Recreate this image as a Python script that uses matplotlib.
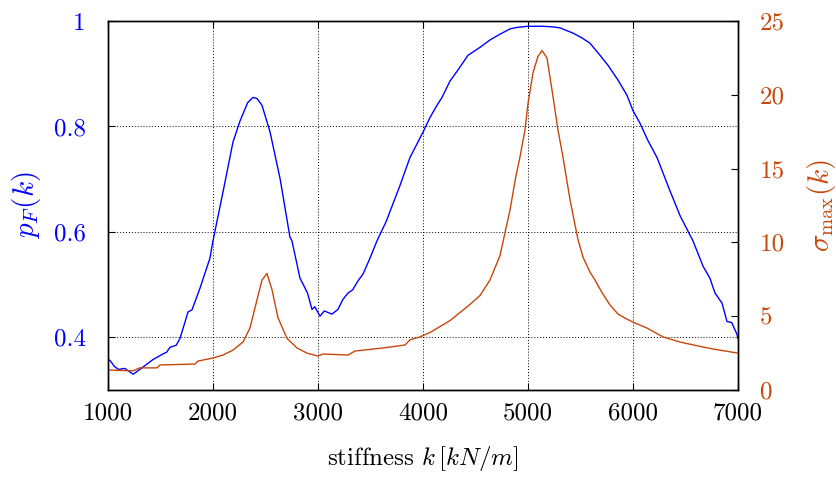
import numpy as np
import matplotlib
matplotlib.use("Agg")
import matplotlib.pyplot as plt

plt.rcParams['font.family'] = 'serif'
plt.rcParams['font.serif'] = ['cmr10', 'DejaVu Serif']
plt.rcParams['mathtext.fontset'] = 'cm'
plt.rcParams['axes.formatter.use_mathtext'] = True

# failure probability p_F(k)
k_pf = [1000, 1020, 1060, 1100, 1160, 1240, 1310, 1430, 1520, 1560, 1590, 1650,
        1686, 1720, 1762, 1800, 1876, 1971, 2000, 2100, 2190, 2257, 2330, 2380,
        2420, 2467, 2543, 2640, 2733, 2752, 2829, 2860, 2900, 2943, 2970, 3019,
        3060, 3133, 3190, 3238, 3286, 3330, 3381, 3429, 3495, 3562, 3650, 3781,
        3876, 4000, 4067, 4133, 4181, 4257, 4333, 4429, 4543, 4638, 4733, 4829,
        4900, 5000, 5143, 5230, 5305, 5429, 5514, 5590, 5686, 5762, 5857, 5943,
        6000, 6067, 6143, 6229, 6352, 6450, 6571, 6667, 6733, 6781, 6848, 6895,
        6940, 6990, 7000]
pf = [0.358, 0.356, 0.345, 0.339, 0.341, 0.330, 0.340, 0.358, 0.368, 0.372,
      0.381, 0.385, 0.398, 0.420, 0.448, 0.452, 0.493, 0.550, 0.583, 0.680,
      0.770, 0.810, 0.845, 0.855, 0.853, 0.840, 0.790, 0.700, 0.590, 0.583,
      0.512, 0.500, 0.484, 0.453, 0.458, 0.440, 0.450, 0.444, 0.453, 0.472,
      0.484, 0.490, 0.507, 0.520, 0.550, 0.583, 0.620, 0.688, 0.741, 0.789,
      0.817, 0.840, 0.855, 0.886, 0.907, 0.935, 0.950, 0.964, 0.975, 0.985,
      0.988, 0.990, 0.990, 0.989, 0.987, 0.977, 0.968, 0.958, 0.935, 0.916,
      0.888, 0.859, 0.830, 0.806, 0.773, 0.741, 0.678, 0.630, 0.583, 0.535,
      0.512, 0.484, 0.465, 0.430, 0.428, 0.406, 0.398]

# maximum stress sigma_max(k)
k_sig = [1000, 1100, 1240, 1300, 1467, 1495, 1829, 1857, 2000, 2095, 2190,
         2286, 2352, 2419, 2467, 2514, 2562, 2619, 2705, 2800, 2895, 3000,
         3048, 3286, 3352, 3619, 3829, 3876, 3971, 4067, 4257, 4448, 4543,
         4638, 4733, 4829, 4880, 4924, 4971, 5000, 5048, 5095, 5133, 5181,
         5238, 5286, 5333, 5400, 5476, 5524, 5590, 5638, 5705, 5781, 5857,
         5943, 6000, 6133, 6286, 6448, 6610, 6762, 7000]
sig = [1.36, 1.33, 1.30, 1.50, 1.50, 1.70, 1.76, 1.96, 2.17, 2.37, 2.70,
       3.25, 4.20, 6.10, 7.45, 7.90, 6.80, 4.90, 3.50, 2.85, 2.50, 2.30,
       2.44, 2.37, 2.64, 2.85, 3.05, 3.40, 3.60, 3.90, 4.70, 5.80, 6.40,
       7.45, 9.10, 12.20, 14.30, 15.80, 17.60, 19.40, 21.50, 22.60, 23.00,
       22.50, 19.90, 17.60, 15.80, 12.90, 10.20, 9.00, 8.00, 7.45, 6.60,
       5.76, 5.15, 4.80, 4.60, 4.20, 3.60, 3.25, 3.00, 2.78, 2.50]

x_ticks = [1000, 2000, 3000, 4000, 5000, 6000, 7000]
pf_ticks = [0.4, 0.6, 0.8, 1.0]
pf_labels = ['0.4', '0.6', '0.8', '1']
sig_ticks = [0, 5, 10, 15, 20, 25]

blue = '#0000ff'
orange = '#c8460a'

fig = plt.figure(figsize=(8.37, 4.83), dpi=100)
ax = fig.add_axes([0.129, 0.1925, 0.7527, 0.764])
ax2 = ax.twinx()

ax.plot(k_pf, pf, color=blue, lw=1.0, zorder=3)
ax2.plot(k_sig, sig, color=orange, lw=1.0)

ax.set_xlim(1000, 7000)
ax.set_ylim(0.3, 1.0)
ax2.set_ylim(0, 25)

ax.set_xticks(x_ticks)
ax.set_xticklabels([str(t) for t in x_ticks])
ax.set_yticks(pf_ticks)
ax.set_yticklabels(pf_labels)
ax2.set_yticks(sig_ticks)
ax2.set_yticklabels([str(t) for t in sig_ticks])

ax.grid(True, color='black', linestyle=(0, (1, 2)), lw=0.7)
ax.tick_params(axis='x', direction='in', top=True, labelsize=18, pad=9, length=5)
ax.tick_params(axis='y', direction='in', labelsize=18, labelcolor=blue, pad=16, length=5)
ax2.tick_params(axis='y', direction='in', labelsize=18, labelcolor=orange, pad=16, length=5)

ax.set_xlabel(r'stiffness $k\,[kN/m]$', fontsize=18, labelpad=14)
ax.set_ylabel(r'$p_F(k)$', fontsize=21, color=blue, labelpad=8)
ax2.set_ylabel(r'$\sigma_{\max}(k)$', fontsize=21, color=orange, labelpad=14)

for a in (ax, ax2):
    for s in a.spines.values():
        s.set_linewidth(1.0)

fig.savefig('out.png', dpi=100)
